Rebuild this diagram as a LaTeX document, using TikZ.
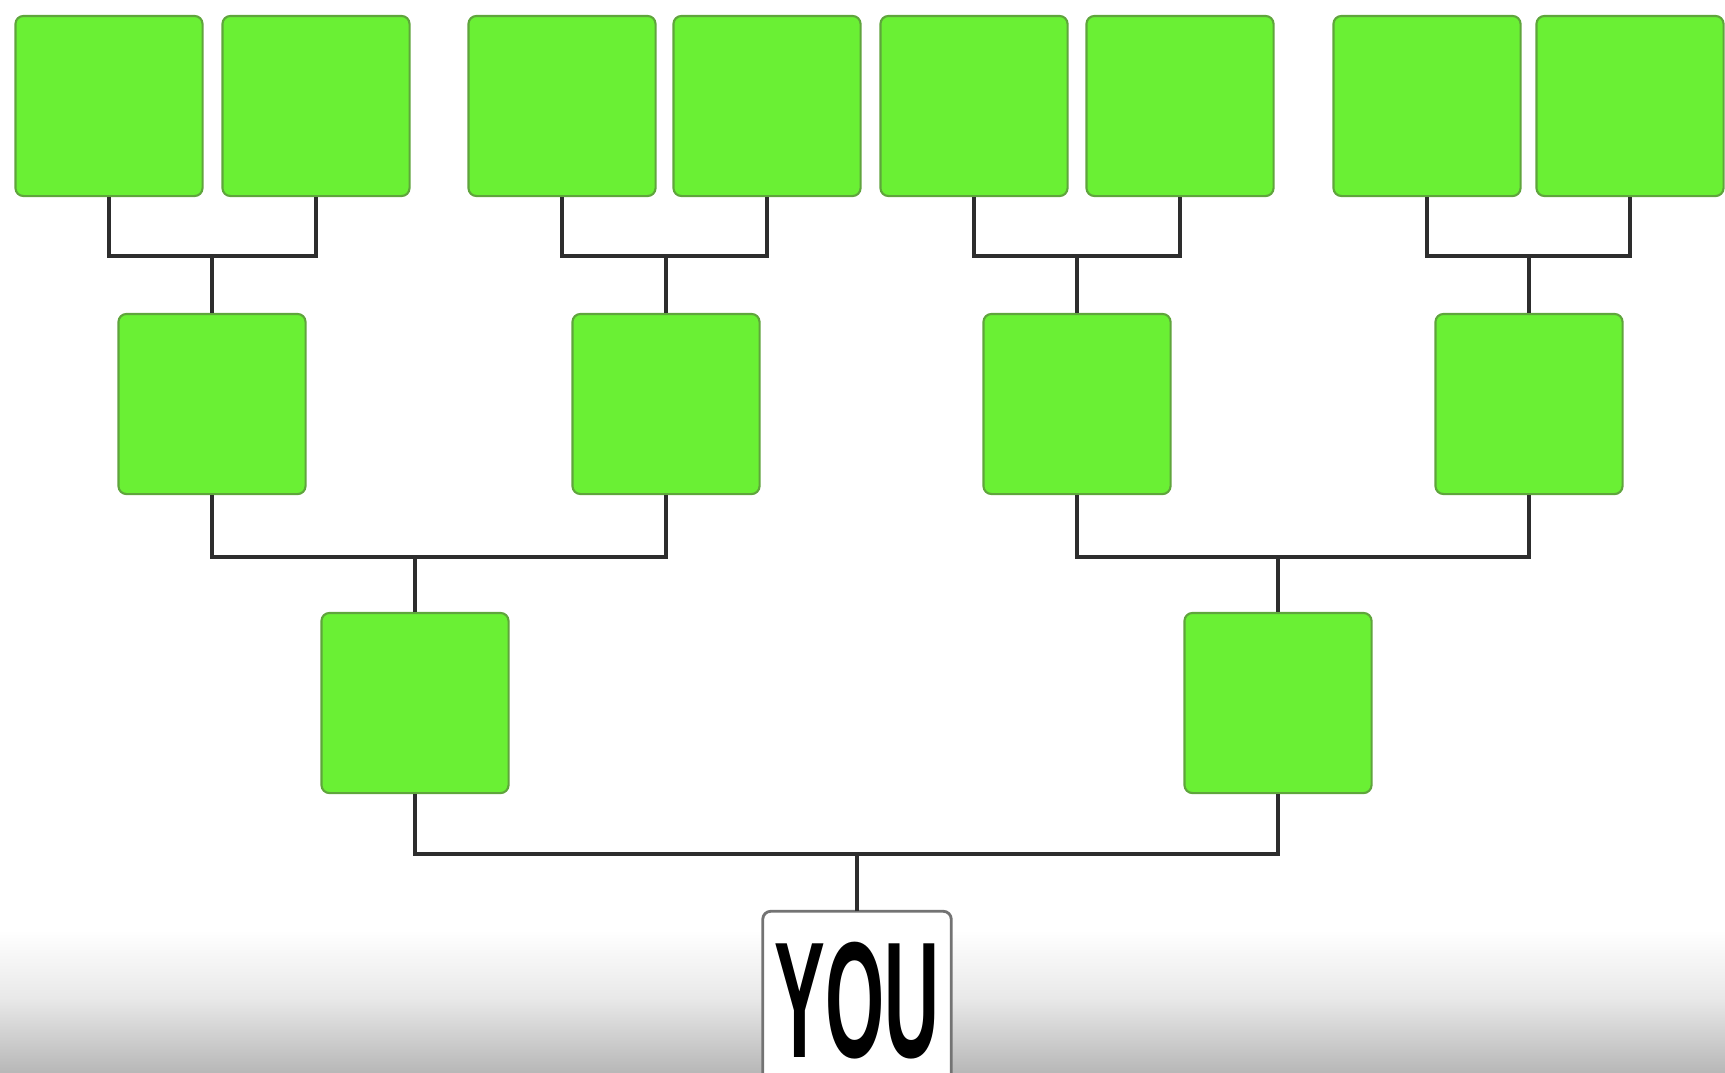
\documentclass[tikz,border=0pt]{standalone}
\usepackage{fontspec}
\usepackage{graphicx}
\usepackage{tikz}
\usetikzlibrary{positioning}
\newfontfamily\youfont{Liberation Sans}
\definecolor{boxgreen}{RGB}{106,240,52}
\definecolor{boxedge}{RGB}{95,165,60}
\definecolor{linkgray}{RGB}{45,45,45}

\begin{document}
\begin{tikzpicture}[
			x=0.01cm, y=-0.01cm,
			box/.style={draw=boxedge, fill=boxgreen, line width=0.6pt, rounded corners=0.08cm, minimum width=1.87cm, minimum height=1.8cm, inner sep=0pt},
			youbox/.style={minimum width=1.87cm, minimum height=1.56cm, inner sep=0pt, text height=1.34cm, text depth=0pt, font=\youfont\bfseries\fontsize{47}{50}\selectfont},
			youedge/.style={draw=black!55, fill=white, line width=0.8pt, rounded corners=0.08cm},
			link/.style={draw=linkgray, line width=1.2pt}
			]
			\useasboundingbox (0,0) rectangle (1725,1072);
			\clip (0,0) rectangle (1725,1072);
			% Sfondo
			\shade[top color=white, bottom color=black!9] (0,930) rectangle (1725,1000);
			\shade[top color=black!9, bottom color=black!28] (0,999) rectangle (1725,1072);
			
			% Nodi
			\node[box] (t1) at (109,106) {};
			\node[box] (t2) at (316,106) {};
			\node[box] (t3) at (562,106) {};
			\node[box] (t4) at (767,106) {};
			\node[box] (t5) at (974,106) {};
			\node[box] (t6) at (1180,106) {};
			\node[box] (t7) at (1427,106) {};
			\node[box] (t8) at (1630,106) {};
			
			\node[box] (m1) at (212,404) {};
			\node[box] (m2) at (666,404) {};
			\node[box] (m3) at (1077,404) {};
			\node[box] (m4) at (1529,404) {};
			
			\node[box] (b1) at (415,703) {};
			\node[box] (b2) at (1278,703) {};
			
			\node[youbox] (you) at (857,990) {};
			\draw[youedge] ([yshift=-0.3cm]you.south west) |- (you.north) -| ([yshift=-0.3cm]you.south east);
			\node[youbox] at (you) {\scalebox{0.46}[1]{YOU}};
			
			% Collegamenti
			\foreach \a/\b/\c in {t1/t2/m1, t3/t4/m2, t5/t6/m3, t7/t8/m4}
				\draw[link] (\a.south) -- ++(0,59) coordinate (bar) -| (\b.south)
					(\c.north) -- (\c.north |- bar);
			\foreach \a/\b/\c in {m1/m2/b1, m3/m4/b2}
				\draw[link] (\a.south) -- ++(0,62) coordinate (bar) -| (\b.south)
					(\c.north) -- (\c.north |- bar);
			\draw[link] (b1.south) -- ++(0,60) coordinate (bar) -| (b2.south)
				(you.north) -- (you.north |- bar);
		\end{tikzpicture}
\end{document}
